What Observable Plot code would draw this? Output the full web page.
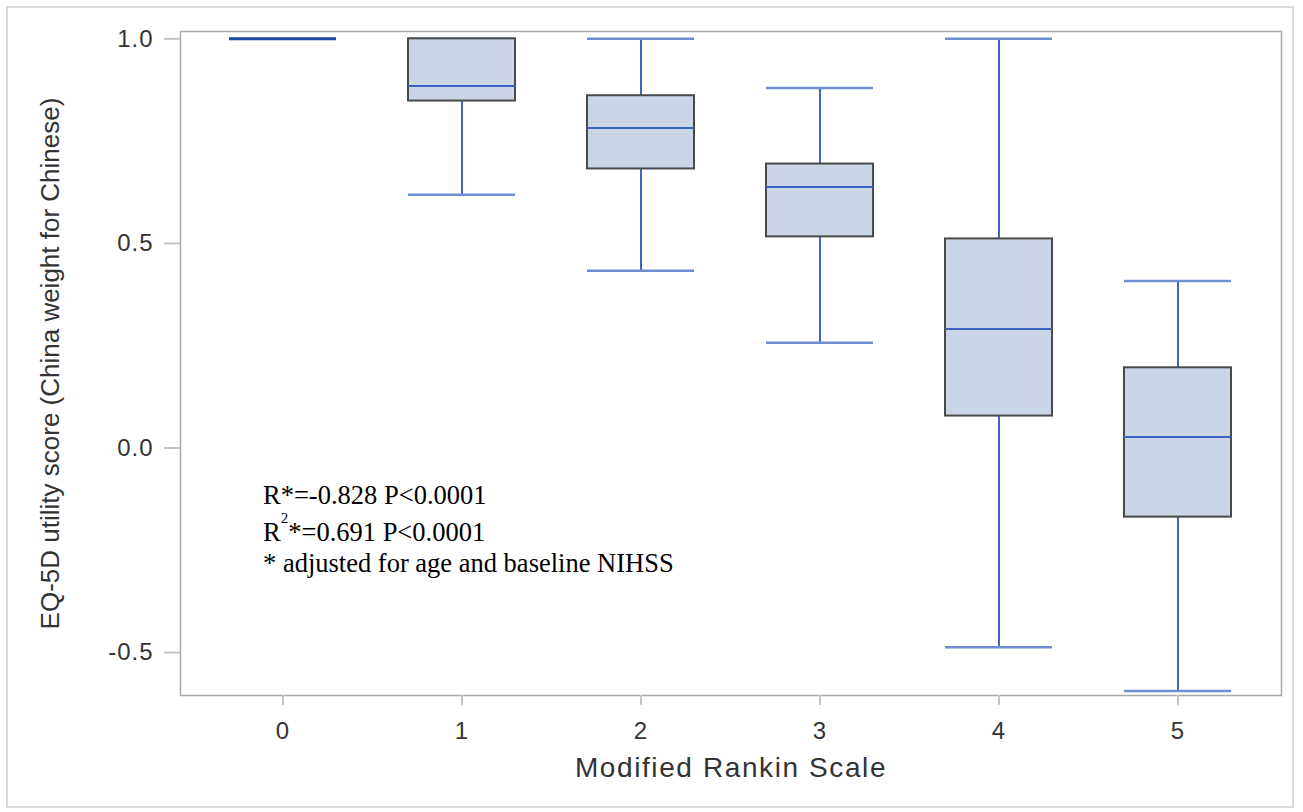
<!DOCTYPE html>
<html>
<head>
<meta charset="utf-8">
<script src="https://cdn.jsdelivr.net/npm/d3@7"></script>
<script src="https://cdn.jsdelivr.net/npm/@observablehq/plot@0.6"></script>
<style>
  html, body { margin: 0; padding: 0; background: #fff; }
  #wrap { position: relative; width: 1303px; height: 812px; overflow: hidden; }
  #chart { position: absolute; left: 0; top: 0; }
  #border { position: absolute; left: 6px; top: 6px; width: 1284px; height: 798px; border: 2px solid #d9d9d9; pointer-events: none; }
  #note { position: absolute; left: 0; top: 0; pointer-events: none; }
  #note text { font-family: "Liberation Serif", "Times New Roman", serif; font-size: 26.5px; fill: #000; }
</style>
</head>
<body>
<div id="wrap">
  <div id="chart"></div>
  <div id="border"></div>
  <svg id="note" width="1303" height="812">
    <text x="263" y="504">R*=-0.828 P&lt;0.0001</text>
    <text x="263" y="541">R<tspan dy="-18" font-size="15">2</tspan><tspan dy="18">*=0.691 P&lt;0.0001</tspan></text>
    <text x="263" y="572">* adjusted for age and baseline NIHSS</text>
  </svg>
</div>
<script>
const categories = ["0", "1", "2", "3", "4", "5"];
const whiskerLow  = [1.000, 0.619, 0.433, 0.257, -0.487, -0.594];
const q1          = [1.000, 0.848, 0.682, 0.516,  0.078, -0.169];
const median      = [1.000, 0.885, 0.782, 0.638,  0.291,  0.027];
const q3          = [1.000, 1.000, 0.861, 0.694,  0.511,  0.196];
const whiskerHigh = [1.000, 1.000, 1.000, 0.880,  1.000,  0.408];
const yTicks = [-0.5, 0.0, 0.5, 1.0];
const xTitle = "Modified Rankin Scale";
const yTitle = "EQ-5D utility score (China weight for Chinese)";

const rows = categories.map((c, i) => ({
  cat: c, lo: whiskerLow[i], q1: q1[i], med: median[i], q3: q3[i], hi: whiskerHigh[i]
}));
const boxes = rows.filter(d => d.q3 > d.q1);
const flat = rows.filter(d => d.q3 === d.q1);

const chart = Plot.plot({
  width: 1303,
  height: 812,
  marginLeft: 180,
  marginTop: 31,
  marginRight: 22,
  marginBottom: 117,
  style: { fontFamily: "'Liberation Sans', Arial, sans-serif", background: "transparent" },
  x: {
    type: "band", domain: categories, paddingInner: 0.4, paddingOuter: 0.265,
    label: null, tickSize: 0
  },
  y: {
    domain: [-0.605, 1.018], ticks: yTicks, label: null, tickSize: 0
  },
  marks: [
    Plot.frame({ stroke: "#a8a8a8", strokeWidth: 1.5 }),
    // whiskers
    Plot.ruleX(boxes, { x: "cat", y1: "lo", y2: "q1", stroke: "#3f66c0", strokeWidth: 2 }),
    Plot.ruleX(boxes, { x: "cat", y1: "q3", y2: "hi", stroke: "#3f66c0", strokeWidth: 2 }),
    Plot.tickY(boxes, { x: "cat", y: "lo", stroke: "#6f8fd2", strokeWidth: 2.5 }),
    Plot.tickY(boxes, { x: "cat", y: "hi", stroke: "#6f8fd2", strokeWidth: 2.5 }),
    // boxes
    Plot.barY(boxes, { x: "cat", y1: "q1", y2: "q3", fill: "#cad6e6", stroke: "#4a4a4a", strokeWidth: 2 }),
    Plot.tickY(boxes, { x: "cat", y: "med", stroke: "#3a62be", strokeWidth: 2 }),
    // degenerate box for category 0
    Plot.tickY(flat, { x: "cat", y: "med", stroke: "#1f48a3", strokeWidth: 3 }),
    // axis ticks (gray, outside frame)
    Plot.axisY({ ticks: yTicks, tickSize: 16, tickPadding: 11, stroke: "#c4c4c4", strokeWidth: 2, fontSize: 24, fill: "#333", tickFormat: d => d.toFixed(1), label: null }),
    Plot.axisX({ tickSize: 10, tickPadding: 16, stroke: "#c4c4c4", strokeWidth: 2, fontSize: 24, fill: "#333", label: null }),
    Plot.text([xTitle], { frameAnchor: "bottom", dy: 81, fontSize: 28, fill: "#333" }),
    Plot.text([yTitle], { frameAnchor: "left", textAnchor: "middle", dx: -130, rotate: -90, fontSize: 26, fill: "#333" })
  ]
});
document.getElementById("chart").appendChild(chart);
d3.select(chart).selectAll("text")
  .filter(function () { return this.textContent === xTitle; })
  .style("letter-spacing", "1.6px");
d3.select(chart).selectAll("text")
  .filter(function () { return /^-?\d(\.\d)?$/.test(this.textContent); })
  .style("letter-spacing", "1px");
</script>
</body>
</html>
